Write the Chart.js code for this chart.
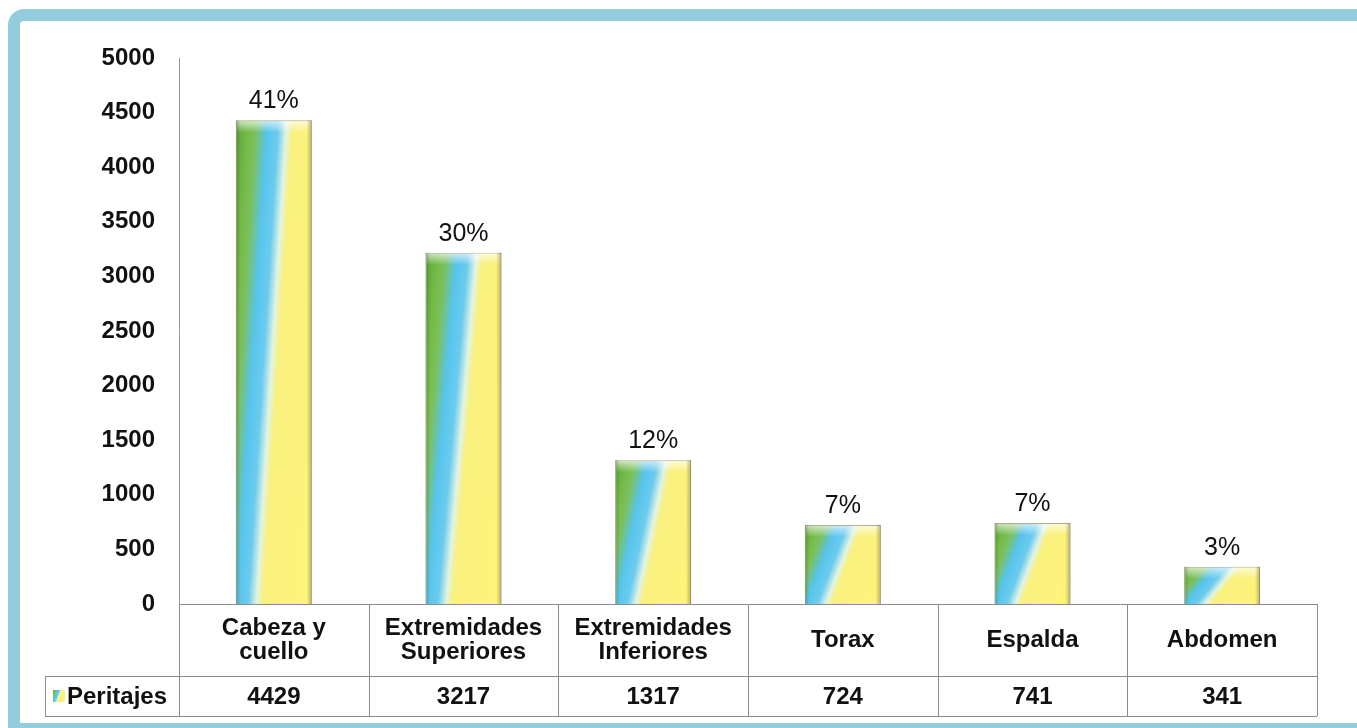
<!DOCTYPE html>
<html>
<head>
<meta charset="utf-8">
<script src="https://cdn.jsdelivr.net/npm/chart.js@4.4.1/dist/chart.umd.min.js"></script>
<style>
  html, body { margin: 0; padding: 0; background: #fff; }
  #wrap { width: 1357px; height: 728px; }
</style>
</head>
<body>
<div id="wrap"><canvas id="chart" width="1357" height="728"></canvas></div>
<script>
// Data
const categories = [['Cabeza y', 'cuello'], ['Extremidades', 'Superiores'], ['Extremidades', 'Inferiores'], 'Torax', 'Espalda', 'Abdomen'];
const seriesName = 'Peritajes';
const peritajes = [4429, 3217, 1317, 724, 741, 341];
const percentLabels = ['41%', '30%', '12%', '7%', '7%', '3%'];
const yTickValues = [0, 500, 1000, 1500, 2000, 2500, 3000, 3500, 4000, 4500, 5000];

const FONT = "'Liberation Sans', Arial, sans-serif";
const FRAME_BLUE = '#93cddc';
const LINE_GRAY = '#8c8c8c';

/**
 * Builds the green / blue / yellow gradient of one bar.
 * The stripes are slanted relative to the bar box, like the original.
 */
function makeBarGradient(ctx, x0, y0, w, h) {
    const slant = 0.4;
    const span = 1 + slant;
    const gx = 1 / (span * w), gy = slant / (span * h);
    const g2 = gx * gx + gy * gy;
    const grad = ctx.createLinearGradient(x0, y0, x0 + gx / g2, y0 + gy / g2);
    grad.addColorStop(0, '#5ca43c');
    grad.addColorStop(0.12, '#74bb48');
    grad.addColorStop(0.19, '#7cc05c');
    grad.addColorStop(0.30, '#56c5ee');
    grad.addColorStop(0.40, '#6ccbee');
    grad.addColorStop(0.48, '#e0f4e4');
    grad.addColorStop(0.54, '#f9f07e');
    grad.addColorStop(1, '#fff47a');
    return grad;
}

// White page plus the light blue frame round the chart
const framePlugin = {
    id: 'frame',
    beforeDraw(chart) {
        const ctx = chart.ctx;
        ctx.save();
        ctx.fillStyle = '#fff';
        ctx.fillRect(0, 0, chart.width, chart.height);
        ctx.restore();
    },
    afterDraw(chart) {
        const ctx = chart.ctx;
        const r = 10;
        ctx.save();
        ctx.strokeStyle = FRAME_BLUE;
        ctx.lineWidth = 12;
        ctx.beginPath();
        ctx.moveTo(chart.width + 20, 15);
        ctx.lineTo(14 + r, 15);
        ctx.arcTo(14, 15, 14, 15 + r, r);
        ctx.lineTo(14, 729);
        ctx.lineTo(chart.width + 20, 729);
        ctx.stroke();
        ctx.restore();
    }
};

// Gradient fill set from each bar's own box, bevel and percentage labels
const barDecorPlugin = {
    id: 'barDecor',
    beforeDatasetsDraw(chart) {
        const meta = chart.getDatasetMeta(0);
        meta.data.forEach(bar => {
            const { x, y, base, width } = bar.getProps(['x', 'y', 'base', 'width'], true);
            if (bar.options && !Object.isFrozen(bar.options)) {
                bar.options.backgroundColor = makeBarGradient(chart.ctx, x - width / 2, y, width, Math.max(1, base - y));
            }
        });
    },
    afterDatasetsDraw(chart) {
        const ctx = chart.ctx;
        const meta = chart.getDatasetMeta(0);
        ctx.save();
        meta.data.forEach((bar, i) => {
            const { x, y, base, width } = bar.getProps(['x', 'y', 'base', 'width'], true);
            const left = x - width / 2;
            const hl = ctx.createLinearGradient(0, y, 0, y + 12);
            hl.addColorStop(0, 'rgba(255,255,255,0.7)');
            hl.addColorStop(0.8, 'rgba(255,255,255,0.15)');
            hl.addColorStop(1, 'rgba(255,255,255,0)');
            ctx.fillStyle = hl;
            ctx.fillRect(left + 1, y + 1, width - 2, Math.min(12, base - y - 2));

            const edge = ctx.createLinearGradient(left, 0, left + width, 0);
            edge.addColorStop(0, 'rgba(60,80,30,0.3)');
            edge.addColorStop(0.06, 'rgba(60,80,30,0)');
            edge.addColorStop(0.93, 'rgba(90,80,20,0)');
            edge.addColorStop(1, 'rgba(90,80,20,0.4)');
            ctx.fillStyle = edge;
            ctx.fillRect(left, y, width, base - y);

            ctx.fillStyle = '#111';
            ctx.font = `25px ${FONT}`;
            ctx.textAlign = 'center';
            ctx.textBaseline = 'alphabetic';
            ctx.fillText(percentLabels[i], x, y - 12);
        });
        ctx.restore();
    }
};

// Data table under the category axis
const tablePlugin = {
    id: 'dataTable',
    afterDraw(chart) {
        const ctx = chart.ctx;
        const xs = chart.scales.x;
        const top = xs.top;
        const rowSplit = top + 72;
        const bottom = top + 112;
        const legendLeft = 45;
        const half = (xs.getPixelForValue(1) - xs.getPixelForValue(0)) / 2;

        ctx.save();
        ctx.strokeStyle = LINE_GRAY;
        ctx.lineWidth = 1;
        ctx.beginPath();
        for (let i = 0; i <= peritajes.length; i++) {
            const bx = Math.round(xs.getPixelForValue(i) - half) + 0.5;
            ctx.moveTo(bx, top);
            ctx.lineTo(bx, bottom);
        }
        ctx.moveTo(legendLeft + 0.5, rowSplit);
        ctx.lineTo(legendLeft + 0.5, bottom);
        ctx.moveTo(legendLeft, rowSplit + 0.5);
        ctx.lineTo(xs.right, rowSplit + 0.5);
        ctx.moveTo(legendLeft, bottom + 0.5);
        ctx.lineTo(xs.right, bottom + 0.5);
        ctx.stroke();

        const rowMid = (rowSplit + bottom) / 2 + 1;
        ctx.fillStyle = '#111';
        ctx.font = `bold 24px ${FONT}`;
        ctx.textBaseline = 'middle';
        ctx.textAlign = 'center';
        peritajes.forEach((v, i) => {
            ctx.fillText(String(v), xs.getPixelForValue(i), rowMid);
        });

        // legend key
        const kx = 53, ky = rowMid - 7, ks = 12;
        ctx.fillStyle = makeBarGradient(ctx, kx, ky, ks, ks);
        ctx.fillRect(kx, ky, ks, ks);
        ctx.fillStyle = '#111';
        ctx.textAlign = 'left';
        ctx.fillText(seriesName, 67, rowMid);
        ctx.restore();
    }
};

const chart = new Chart(document.getElementById('chart').getContext('2d'), {
    type: 'bar',
    data: {
        labels: categories,
        datasets: [{
            label: seriesName,
            data: peritajes,
            backgroundColor: ctx => (ctx.type === 'data' ? '#74c8e0' : '#74c8e0'),
            borderColor: 'rgba(110,105,50,0.55)',
            borderWidth: 1,
            categoryPercentage: 1,
            barPercentage: 0.4
        }]
    },
    options: {
        responsive: false,
        animation: false,
        layout: { padding: { top: 58, right: 40, left: 0, bottom: 0 } },
        plugins: {
            legend: { display: false },
            tooltip: { enabled: false }
        },
        scales: {
            x: {
                grid: { display: false, drawTicks: false },
                border: { display: true, color: LINE_GRAY, width: 1 },
                afterFit: scale => { scale.height = 124; },
                ticks: {
                    color: '#111',
                    font: { family: FONT, size: 24, weight: 'bold', lineHeight: 1.02 },
                    padding: 24,
                    maxRotation: 0,
                    minRotation: 0,
                    autoSkip: false,
                    crossAlign: 'center'
                }
            },
            y: {
                min: 0,
                max: 5000,
                grid: { display: false, drawTicks: false },
                border: { display: true, color: '#999', width: 1 },
                afterFit: scale => { scale.width = 179; },
                afterBuildTicks: scale => { scale.ticks = yTickValues.map(v => ({ value: v })); },
                ticks: {
                    color: '#111',
                    font: { family: FONT, size: 24, weight: 'bold' },
                    padding: 24,
                    callback: value => String(value)
                }
            }
        }
    },
    plugins: [framePlugin, barDecorPlugin, tablePlugin]
});
</script>
</body>
</html>
